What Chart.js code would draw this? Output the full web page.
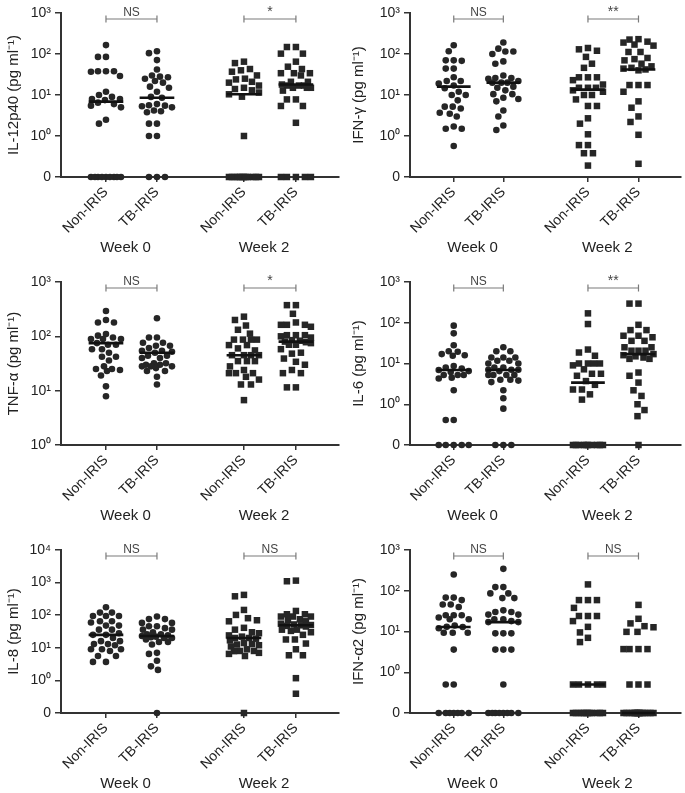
<!DOCTYPE html>
<html><head><meta charset="utf-8">
<script src="https://cdn.jsdelivr.net/npm/chart.js@4.4.1/dist/chart.umd.min.js"></script>
<style>
html,body{margin:0;padding:0;background:#fff}
#wrap{position:relative;width:685px;height:793px;overflow:hidden;background:#fff}
canvas{position:absolute}
</style></head><body><div id="wrap"></div>
<script>
// ---------- data (pg/ml; 0 = below detection, drawn on the "0" line) ----------
const GROUP_NAMES = ['Non-IRIS', 'TB-IRIS', 'Non-IRIS', 'TB-IRIS'];
const WEEK_NAMES = ['Week 0', 'Week 2'];
const TICKS_3 = ['0', '10⁰', '10¹', '10²', '10³'];
const TICKS_3_NOZERO = ['10⁰', '10¹', '10²', '10³'];
const TICKS_4 = ['0', '10⁰', '10¹', '10²', '10³', '10⁴'];

const il12_w0_non = [165, 85, 85, 38, 38, 38, 37, 29, 12, 10, 9, 8, 8, 7.5, 6.5, 6, 5.5, 5, 2.5, 2, 0, 0, 0, 0, 0, 0, 0, 0, 0];
const il12_w0_tb = [117, 105, 71, 42, 30, 28, 27, 25, 22, 20, 16, 15, 12, 9, 8.6, 6, 5.6, 5.5, 5.3, 5, 4.2, 4, 3.8, 2, 2, 1, 1, 0, 0, 0];
const il12_w2_non = [65, 60, 43, 40, 37, 30, 25, 24, 21, 20, 17, 15, 14, 13, 11.5, 10.4, 9.1, 1.0, 0, 0, 0, 0, 0, 0, 0, 0, 0, 0, 0, 0];
const il12_w2_tb = [148, 148, 102, 102, 65, 49, 43, 34, 34, 34, 30, 21, 21, 18, 17, 17, 17, 15, 15, 15, 12.8, 7.8, 7.8, 5.4, 5.4, 2.1, 0, 0, 0, 0, 0];
const il12_med = [6.9, 8.6, 10.4, 18];

const ifng_w0_non = [163, 117, 70, 70, 68, 44, 44, 27, 22, 22, 19, 17, 14.6, 12, 10, 10, 7.4, 5.2, 5.2, 4.7, 3.7, 3.5, 3, 1.7, 1.5, 1.5, 0.57];
const ifng_w0_tb = [190, 135, 115, 115, 100, 66, 58, 30, 26, 26, 25, 22, 20, 20, 20, 16, 15, 13, 10.5, 10.5, 8.6, 8, 7, 4.2, 3, 1.8, 1.4];
const ifng_w2_non = [140, 130, 120, 85, 58, 46, 27, 27, 27, 23, 18, 15, 15, 15, 13, 12, 10, 10, 7.8, 5.4, 5.4, 2.7, 2.0, 1.1, 0.6, 0.6, 0.38, 0.38, 0.19];
const ifng_w2_tb = [230, 225, 200, 190, 170, 160, 112, 112, 80, 75, 70, 58, 50, 46, 44, 42, 40, 17.5, 17.5, 17.5, 12, 7, 4.9, 3, 2.2, 1.07, 0.21];
const ifng_med = [16, 20, 13.5, 42];

const tnf_w0_non = [293, 200, 180, 180, 110, 103, 95, 89, 89, 89, 75, 70, 70, 58, 58, 50, 42, 42, 36, 28, 25, 25, 24, 23, 19, 12, 7.9];
const tnf_w0_tb = [215, 95, 95, 76, 76, 67, 67, 61, 54, 54, 52, 50, 44, 44, 40, 40, 32, 32, 30, 30, 28, 28, 28, 26, 23, 23, 18, 13];
const tnf_w2_non = [230, 200, 158, 132, 112, 87, 87, 87, 87, 69, 69, 60, 55, 45, 45, 45, 45, 35, 35, 35, 28, 24, 21, 21, 21, 18, 16, 13, 13, 6.7];
const tnf_w2_tb = [375, 375, 260, 180, 163, 163, 163, 150, 105, 105, 105, 100, 95, 85, 83, 80, 78, 75, 70, 70, 58, 50, 48, 39, 34, 30, 24, 21, 21, 11.5, 11.5];
const tnf_med = [75, 50, 45, 80];

const il6_w0_non = [85, 55, 28, 20, 19.5, 17, 16, 15.5, 8.7, 8, 7.5, 6.9, 6.5, 6.2, 5.2, 5.2, 5.2, 4.5, 4.3, 2.2, 0.41, 0.41, 0, 0, 0, 0, 0];
const il6_w0_tb = [25, 20, 20, 14, 14, 14, 11.7, 11.7, 10, 10, 8, 8, 7, 7, 7, 6.5, 5.2, 5.2, 5.2, 5.2, 4, 4, 3.8, 3.5, 2.2, 1.4, 0.78, 0, 0, 0];
const il6_w2_non = [170, 93, 22, 18.6, 15.5, 10, 10, 10, 10, 9, 7.2, 5.6, 5.6, 5, 3.7, 3, 2.3, 2.3, 1.75, 1.3, 0, 0, 0, 0, 0, 0, 0, 0, 0, 0];
const il6_w2_tb = [295, 295, 89, 66, 66, 48, 48, 44, 36, 36, 25, 25, 20.6, 20.6, 20.6, 17, 16, 15, 14, 13, 13, 6, 5, 3.4, 2.2, 1.6, 1.0, 0.72, 0.51, 0];
const il6_med = [6.9, 6.9, 3.4, 17];

const il8_w0_non = [175, 120, 120, 95, 95, 95, 65, 65, 60, 48, 48, 36, 36, 28, 25, 25, 20, 16, 16, 13, 13, 12, 9, 9, 9, 8, 5.6, 5.6, 3.7, 3.7];
const il8_w0_tb = [91, 76, 76, 58, 58, 46, 46, 40, 36, 36, 30, 26, 26, 24, 23, 22, 21, 20, 20, 18, 15, 15, 12.6, 7, 6.5, 4, 2.7, 2.1, 0];
const il8_w2_non = [420, 380, 145, 102, 81, 70, 65, 41, 36, 30, 28, 24, 22, 20, 20, 19, 17, 14, 13, 12.6, 12, 11, 9, 8, 8, 7.9, 7, 6.5, 5.6, 0];
const il8_w2_tb = [1150, 1100, 135, 107, 107, 91, 91, 91, 75, 70, 65, 55, 52, 50, 49, 47, 45, 36, 36, 33, 30, 25, 18, 18, 13.5, 9, 5.9, 5.9, 1.17, 0.39];
const il8_med = [25, 23, 20, 49];

const ifna_w0_non = [250, 68, 68, 59, 46, 46, 40, 25, 25, 25, 22, 20, 20, 14, 13, 12.9, 12, 9.3, 9.3, 9.3, 3.6, 0.5, 0.5, 0, 0, 0, 0, 0, 0, 0];
const ifna_w0_tb = [345, 123, 123, 86, 86, 66, 66, 33, 30, 30, 26, 26, 20, 20, 18, 17, 17, 9, 9, 9, 3.6, 3.6, 3.6, 0.5, 0, 0, 0, 0, 0, 0, 0, 0];
const ifna_w2_non = [143, 59, 59, 59, 38, 24, 24, 24, 18, 13, 9.5, 7, 5.5, 0.5, 0.5, 0.5, 0.5, 0.5, 0, 0, 0, 0, 0, 0, 0, 0, 0, 0, 0, 0];
const ifna_w2_tb = [45, 20.5, 15.8, 13.5, 12.7, 9.8, 9.8, 3.7, 3.7, 3.7, 3.7, 0.5, 0.5, 0.5, 0, 0, 0, 0, 0, 0, 0, 0, 0, 0, 0, 0, 0, 0, 0, 0];
const ifna_med = [12.9, 17, 0.5, 0];

// ---------- drawing ----------
const FONT = '"Liberation Sans", Arial, Helvetica, sans-serif';
Chart.defaults.font.family = FONT;
const CENTERS = [1, 2, 3.706, 4.725];
const X_MIN = 0.118, X_MAX = 5.57;
const MED_HALF = 0.34;
const INK = '#262626';

function tv(v) { return v > 0 ? Math.log10(v) : -1; }

const annotPlugin = {
  id: 'annot',
  afterDraw(chart) {
    const o = chart.options.plugins.annot;
    const ctx = chart.ctx, area = chart.chartArea, x = chart.scales.x;
    ctx.save();
    [[0, 1], [2, 3]].forEach((pr, k) => {
      const x1 = x.getPixelForValue(CENTERS[pr[0]]), x2 = x.getPixelForValue(CENTERS[pr[1]]);
      const by = area.top + 6;
      ctx.strokeStyle = '#7a7a7a'; ctx.lineWidth = 1.2;
      ctx.beginPath();
      ctx.moveTo(x1, by); ctx.lineTo(x2, by);
      ctx.moveTo(x1, by - 3.5); ctx.lineTo(x1, by + 3.5);
      ctx.moveTo(x2, by - 3.5); ctx.lineTo(x2, by + 3.5);
      ctx.stroke();
      ctx.fillStyle = '#444'; ctx.textAlign = 'center'; ctx.textBaseline = 'alphabetic';
      ctx.font = (o.sig[k] === 'NS' ? '12px ' : '14px ') + FONT;
      ctx.fillText(o.sig[k], (x1 + x2) / 2, by - 3);
      const xm = (x1 + x2) / 2 - 6;
      ctx.fillStyle = '#222'; ctx.font = '15px ' + FONT; ctx.textBaseline = 'middle';
      ctx.fillText(WEEK_NAMES[k], xm, area.bottom + 71);
    });
    ctx.restore();
  }
};

// beeswarm placement of points computed from the chart's own scales
function swarm(vals, center, xs, ys, step, maxHalf) {
  const cpx = xs.getPixelForValue(center);
  const pts = vals.map((v, i) => ({ i, py: ys.getPixelForValue(tv(v)) }));
  pts.sort((a, b) => a.py - b.py);
  const placed = [], out = new Array(vals.length);
  for (const p of pts) {
    let best = 0, bestScore = -1, done = false;
    for (let k = 0; k <= maxHalf && !done; k++) {
      for (const s of (k === 0 ? [0] : [-k, k])) {
        let md = Infinity;
        for (const q of placed) {
          const d = Math.hypot(q.px - (cpx + s), q.py - p.py);
          if (d < md) md = d;
        }
        if (md >= step) { best = s; done = true; break; }
        if (md > bestScore) { bestScore = md; best = s; }
      }
    }
    placed.push({ px: cpx + best, py: p.py });
    out[p.i] = xs.getValueForPixel(cpx + best);
  }
  return out;
}

function makePanel(cfg) {
  const cv = document.createElement('canvas');
  cv.width = cfg.w; cv.height = cfg.h;
  cv.style.left = cfg.left + 'px'; cv.style.top = cfg.top + 'px';
  cv.style.width = cfg.w + 'px'; cv.style.height = cfg.h + 'px';
  document.getElementById('wrap').appendChild(cv);
  const tickVals = [];
  for (let t = cfg.ymin; t <= cfg.ymax; t++) tickVals.push(t);
  const datasets = [];
  cfg.series.forEach((vals, g) => {
    datasets.push({
      type: 'scatter',
      data: vals.map(v => ({ x: CENTERS[g], y: tv(v) })),
      pointStyle: g < 2 ? 'circle' : 'rect',
      pointRadius: g < 2 ? 3.3 : 4.6,
      backgroundColor: INK, borderColor: INK, borderWidth: 0,
      clip: false, order: 1
    });
  });
  cfg.medians.forEach((m, g) => {
    datasets.push({
      type: 'line',
      data: [{ x: CENTERS[g] - MED_HALF, y: tv(m) }, { x: CENTERS[g] + MED_HALF, y: tv(m) }],
      borderColor: '#111', borderWidth: 2.6, pointRadius: 0, fill: false,
      clip: false, order: -1
    });
  });
  const chart = new Chart(cv, {
    type: 'scatter',
    data: { datasets },
    plugins: [annotPlugin],
    options: {
      responsive: false, animation: false, events: [], devicePixelRatio: 1,
      layout: { padding: { top: cfg.areaTop, right: cfg.padRight, left: 0, bottom: 0 } },
      plugins: { legend: { display: false }, tooltip: { enabled: false }, annot: { sig: cfg.sig } },
      scales: {
        x: {
          type: 'linear', min: X_MIN, max: X_MAX,
          afterBuildTicks: s => { s.ticks = CENTERS.map(v => ({ value: v })); },
          afterFit: s => { s.height = cfg.h - cfg.areaBottom; s.paddingLeft = 0; s.paddingRight = 0; },
          ticks: {
            autoSkip: false, minRotation: 45, maxRotation: 45, padding: 2,
            color: '#222', font: { size: 14 },
            callback: v => GROUP_NAMES[CENTERS.indexOf(v)]
          },
          grid: { drawOnChartArea: false, drawTicks: true, tickLength: 5, color: '#333', lineWidth: 1.5 },
          border: { display: true, color: '#333', width: 2 }
        },
        y: {
          type: 'linear', min: cfg.ymin, max: cfg.ymax,
          afterBuildTicks: s => { s.ticks = tickVals.map(v => ({ value: v })); },
          afterFit: s => { s.width = cfg.axisW; s.paddingTop = 0; s.paddingBottom = 0; },
          ticks: {
            autoSkip: false, padding: 4, color: '#222', font: { size: 14 },
            callback: v => cfg.tickLabels[tickVals.indexOf(v)]
          },
          grid: { drawOnChartArea: false, drawTicks: true, tickLength: 6, color: '#333', lineWidth: 1.5 },
          border: { display: true, color: '#333', width: 2 },
          title: { display: true, text: cfg.title, color: '#222', font: { size: 15 }, padding: { top: 5, bottom: 2 } }
        }
      }
    }
  });
  // spread points horizontally (beeswarm) using the laid-out scales
  cfg.series.forEach((vals, g) => {
    const xsw = swarm(vals, CENTERS[g], chart.scales.x, chart.scales.y, g < 2 ? 7.5 : 9, 15);
    chart.data.datasets[g].data.forEach((p, j) => { p.x = xsw[j]; });
  });
  chart.update('none');
  return chart;
}

const L = { left: 0, w: 345, axisW: 61, padRight: 6 };
const R = { left: 345, w: 340, axisW: 65, padRight: 0 };
const ROW1 = { top: 0, h: 268, areaTop: 13, areaBottom: 177 };
const ROW2 = { top: 269, h: 268, areaTop: 13, areaBottom: 176 };
const ROW3 = { top: 537, h: 256, areaTop: 13, areaBottom: 176 };

makePanel(Object.assign({}, L, ROW1, { title: 'IL-12p40 (pg ml⁻¹)', series: [il12_w0_non, il12_w0_tb, il12_w2_non, il12_w2_tb], medians: il12_med, ymin: -1, ymax: 3, tickLabels: TICKS_3, sig: ['NS', '*'] }));
makePanel(Object.assign({}, R, ROW1, { title: 'IFN-γ (pg ml⁻¹)', series: [ifng_w0_non, ifng_w0_tb, ifng_w2_non, ifng_w2_tb], medians: ifng_med, ymin: -1, ymax: 3, tickLabels: TICKS_3, sig: ['NS', '**'] }));
makePanel(Object.assign({}, L, ROW2, { title: 'TNF-α (pg ml⁻¹)', series: [tnf_w0_non, tnf_w0_tb, tnf_w2_non, tnf_w2_tb], medians: tnf_med, ymin: 0, ymax: 3, tickLabels: TICKS_3_NOZERO, sig: ['NS', '*'] }));
makePanel(Object.assign({}, R, ROW2, { title: 'IL-6 (pg ml⁻¹)', series: [il6_w0_non, il6_w0_tb, il6_w2_non, il6_w2_tb], medians: il6_med, ymin: -1, ymax: 3, tickLabels: TICKS_3, sig: ['NS', '**'] }));
makePanel(Object.assign({}, L, ROW3, { title: 'IL-8 (pg ml⁻¹)', series: [il8_w0_non, il8_w0_tb, il8_w2_non, il8_w2_tb], medians: il8_med, ymin: -1, ymax: 4, tickLabels: TICKS_4, sig: ['NS', 'NS'] }));
makePanel(Object.assign({}, R, ROW3, { title: 'IFN-α2 (pg ml⁻¹)', series: [ifna_w0_non, ifna_w0_tb, ifna_w2_non, ifna_w2_tb], medians: ifna_med, ymin: -1, ymax: 3, tickLabels: TICKS_3, sig: ['NS', 'NS'] }));
</script>
</body></html>
